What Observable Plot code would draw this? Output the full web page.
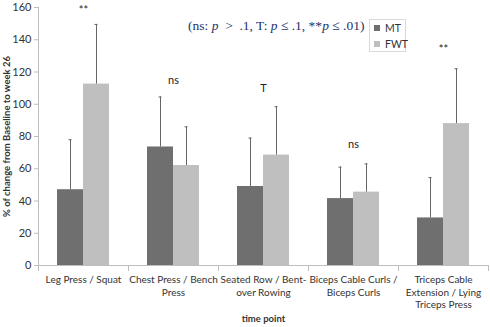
<!DOCTYPE html>
<html>
<head>
<meta charset="utf-8">
<script src="https://cdn.jsdelivr.net/npm/d3@7"></script>
<script src="https://cdn.jsdelivr.net/npm/@observablehq/plot@0.6"></script>
<style>
  html, body { margin: 0; padding: 0; background: #fff; }
  #wrap { position: relative; width: 490px; height: 327px; }
  #wrap svg { font-family: Lato, "Open Sans", sans-serif; font-size: 10px; color: #333; }
  [aria-label="y-axis label"], [aria-label="fx-axis label"] { font-weight: bold; font-size: 9.5px; }
  #eq { position: absolute; left: 188px; top: 18px; font-family: "Liberation Serif", "DejaVu Serif", serif; font-size: 13.5px; color: #22336b; white-space: nowrap; }
  #legend { position: absolute; left: 369px; top: 19px; width: 37px; height: 33px; border: 1px solid #d9d9d9; box-sizing: border-box; font-family: Lato, sans-serif; font-size: 10.5px; color: #333; }
  .li { position: absolute; left: 4px; display: flex; align-items: center; }
  .sw { width: 6px; height: 6px; margin-right: 5px; }
</style>
</head>
<body>
<div id="wrap"></div>
<script>
const categories = [
  "Leg Press / Squat",
  "Chest Press / Bench\nPress",
  "Seated Row / Bent-\nover Rowing",
  "Biceps Cable Curls /\nBiceps Curls",
  "Triceps Cable\nExtension / Lying\nTriceps Press"
];
const series = ["MT", "FWT"];
const seriesColors = ["#6f6f6f", "#bfbfbf"];
const mtValues = [47, 73.5, 49, 41.5, 29.5];
const mtErrors = [31, 31, 30, 19.5, 25];
const fwtValues = [112.5, 62, 68.5, 45.5, 88];
const fwtErrors = [37, 24, 30, 17.5, 34];
const significance = ["**", "ns", "T", "ns", "**"];
const significanceY = [158, 115, 110, 75, 134];
const yTicks = [0, 20, 40, 60, 80, 100, 120, 140, 160];

const rows = [];
categories.forEach((c, i) => {
  rows.push({cat: c, series: "MT", value: mtValues[i], upper: mtValues[i] + mtErrors[i]});
  rows.push({cat: c, series: "FWT", value: fwtValues[i], upper: fwtValues[i] + fwtErrors[i]});
});
const annots = categories.map((c, i) => ({cat: c, label: significance[i], y: significanceY[i]}));

const W = 490, H = 327, mT = 7, mB = 62, mL = 37, mR = 2;
const innerH = H - mT - mB;
const axisColor = "#bdbdbd";

const chart = Plot.plot({
  width: W, height: H,
  marginTop: mT, marginBottom: mB, marginLeft: mL, marginRight: mR,
  fx: {domain: categories, padding: 0, label: "time point"},
  x: {domain: series, paddingInner: 0, paddingOuter: 0.73, axis: null},
  y: {domain: [0, 160]},
  color: {domain: series, range: seriesColors},
  marks: [
    Plot.frame({anchor: "left", facetAnchor: "left", stroke: axisColor}),
    Plot.frame({anchor: "left", insetTop: innerH, insetBottom: -5, stroke: axisColor}),
    Plot.frame({anchor: "right", facetAnchor: "right", insetTop: innerH, insetBottom: -5, stroke: axisColor}),
    Plot.ruleY([0], {stroke: axisColor}),
    Plot.barY(rows, {fx: "cat", x: "series", y: "value", fill: "series"}),
    Plot.ruleX(rows, {fx: "cat", x: "series", y1: "value", y2: "upper", stroke: "#666", strokeWidth: 1}),
    Plot.tickY(rows, {fx: "cat", x: "series", y: "upper", insetLeft: 11.5, insetRight: 11.5, stroke: "#666"}),
    Plot.text(annots, {fx: "cat", y: "y", text: "label", fontSize: 11, fill: "#222"}),
    Plot.axisY({ticks: yTicks, tickSize: 4, tickPadding: 3, fontSize: 11, stroke: axisColor, label: "% of change from Baseline to week 26", labelAnchor: "center", labelArrow: false, labelOffset: 35}),
    Plot.axisFx({anchor: "bottom", tickSize: 0, tickPadding: 9, lineHeight: 1.25, label: "time point", labelAnchor: "center", labelArrow: false, labelOffset: 56})
  ]
});
const wrap = document.getElementById("wrap");
wrap.appendChild(chart);

const eq = document.createElement("div");
eq.id = "eq";
eq.innerHTML = "(ns: <i>p</i>&nbsp; &gt;&nbsp; .1, T: <i>p</i> ≤ .1, **<i>p</i> ≤ .01)";
wrap.appendChild(eq);

const lg = document.createElement("div");
lg.id = "legend";
series.forEach((s, i) => {
  const it = document.createElement("div");
  it.className = "li";
  it.style.top = (i === 0 ? 2 : 18) + "px";
  it.innerHTML = `<span class="sw" style="background:${seriesColors[i]}"></span><span>${s}</span>`;
  lg.appendChild(it);
});
wrap.appendChild(lg);
</script>
</body>
</html>
